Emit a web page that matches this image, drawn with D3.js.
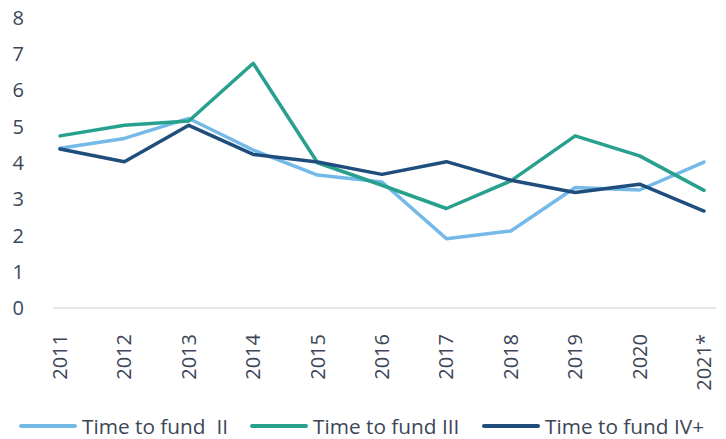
<!DOCTYPE html>
<meta charset="utf-8">
<style>
  html, body { margin: 0; padding: 0; background: #fff; }
  text { font-family: "Open Sans", sans-serif; fill: #3b4657; }
</style>
<body>
<svg id="chart" width="726" height="439"></svg>
<script src="https://cdnjs.cloudflare.com/ajax/libs/d3/7.8.5/d3.min.js"></script>
<script>
  var years = ["2011", "2012", "2013", "2014", "2015", "2016", "2017", "2018", "2019", "2020", "2021*"];
  var fundII = [4.40, 4.67, 5.22, 4.35, 3.66, 3.47, 1.91, 2.12, 3.32, 3.25, 4.02];
  var fundIII = [4.74, 5.03, 5.15, 6.74, 4.00, 3.38, 2.74, 3.50, 4.74, 4.19, 3.24];
  var fundIV = [4.38, 4.03, 5.03, 4.23, 4.02, 3.68, 4.03, 3.52, 3.18, 3.41, 2.67];
  var yTicks = [0, 1, 2, 3, 4, 5, 6, 7, 8];
  var seriesNames = ["Time to fund  II", "Time to fund III", "Time to fund IV+"];
  var colors = ["#75b9e9", "#27a08d", "#1f4e7d"];

  var svg = d3.select("#chart");

  var x = d3.scalePoint().domain(years).range([60, 704]);
  var y = d3.scaleLinear().domain([0, 8]).range([308, 17.5]);

  // axis base line
  svg.append("line")
    .attr("x1", 53).attr("x2", 716)
    .attr("y1", y(0)).attr("y2", y(0))
    .attr("stroke", "#dcdfe3").attr("stroke-width", 1.5);

  // y tick labels
  svg.selectAll(".ytick")
    .data(yTicks)
    .enter().append("text")
    .attr("class", "ytick")
    .attr("x", 24)
    .attr("y", function (d) { return y(d); })
    .attr("dy", "0.36em")
    .attr("text-anchor", "end")
    .style("font-size", "20px")
    .text(function (d) { return d; });

  // x labels, rotated
  svg.selectAll(".xtick")
    .data(years)
    .enter().append("text")
    .attr("class", "xtick")
    .attr("transform", function (d) { return "translate(" + (x(d) + 7) + ",334) rotate(-90)"; })
    .attr("text-anchor", "end")
    .style("font-size", "20px")
    .text(function (d) { return d; });

  var line = d3.line()
    .x(function (d, i) { return x(years[i]); })
    .y(function (d) { return y(d); });

  [fundII, fundIII, fundIV].forEach(function (vals, i) {
    svg.append("path")
      .datum(vals)
      .attr("d", line)
      .attr("fill", "none")
      .attr("stroke", colors[i])
      .attr("stroke-width", 3.5)
      .attr("stroke-linejoin", "round")
      .attr("stroke-linecap", "round");
  });

  // legend
  var legendX = [21, 252, 484];
  var lg = svg.selectAll(".lg")
    .data(seriesNames)
    .enter().append("g")
    .attr("class", "lg")
    .attr("transform", function (d, i) { return "translate(" + legendX[i] + ",426)"; });

  lg.append("line")
    .attr("x1", 0).attr("x2", 54)
    .attr("stroke", function (d, i) { return colors[i]; })
    .attr("stroke-width", 4)
    .attr("stroke-linecap", "round");

  lg.append("text")
    .attr("x", 61)
    .attr("y", 0)
    .attr("dy", "0.36em")
    .style("font-size", "20.8px")
    .style("white-space", "pre")
    .text(function (d) { return d; });
</script>
